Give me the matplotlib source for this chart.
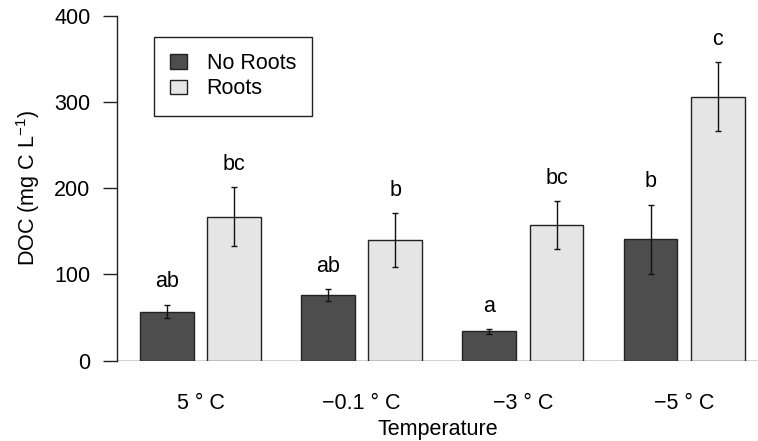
import numpy as np
import matplotlib
matplotlib.use("Agg")
import matplotlib.pyplot as plt

plt.rcParams['font.family'] = ['Liberation Sans', 'DejaVu Sans']
plt.rcParams['mathtext.fontset'] = 'custom'
plt.rcParams['mathtext.rm'] = 'Liberation Sans'
plt.rcParams['font.size'] = 15.5

# DOC by temperature, mean and standard error
temps = ["5 \u00b0 C", "\u22120.1 \u00b0 C", "\u22123 \u00b0 C", "\u22125 \u00b0 C"]
no_roots = [57, 76, 34, 141]
no_roots_se = [8, 7, 3, 40]
roots = [167, 140, 157, 306]
roots_se = [34, 31, 28, 40]
letters_no_roots = ["ab", "ab", "a", "b"]
letters_roots = ["bc", "b", "bc", "c"]

dark = "#4d4d4d"
light = "#e5e5e5"
edge = "#222222"

fig = plt.figure(figsize=(7.58, 4.41), dpi=100)
W, H = 758, 441
ax = fig.add_axes([117 / W, 1 - 360.7 / H, (758 - 117) / W, (360.7 - 15.7) / H])

x = np.arange(len(temps)) * 3.0
xd = x
xl = x + 1.25

ax.bar(xd, no_roots, width=1, color=dark, edgecolor=edge, linewidth=1.0,
       label="No Roots", zorder=2)
ax.bar(xl, roots, width=1, color=light, edgecolor=edge, linewidth=1.0,
       label="Roots", zorder=2)
ax.errorbar(xd, no_roots, yerr=no_roots_se, fmt="none", ecolor="#111111",
            elinewidth=1.0, capsize=2.2, capthick=1.0, zorder=3)
ax.errorbar(xl, roots, yerr=roots_se, fmt="none", ecolor="#111111",
            elinewidth=1.0, capsize=2.2, capthick=1.0, zorder=3)

# significance letters above the error bars
for xi, m, s, t in zip(xd, no_roots, no_roots_se, letters_no_roots):
    ax.text(xi, m + s + 20, t, ha="center", va="baseline")
for xi, m, s, t in zip(xl, roots, roots_se, letters_roots):
    ax.text(xi, m + s + 20, t, ha="center", va="baseline")

ax.axhline(0, color="#222222", linewidth=1.0, zorder=1)

ax.set_xlim(-0.93, 11.0)
ax.set_ylim(0, 400)
ax.set_yticks([0, 100, 200, 300, 400])
ax.set_xticks(x + 0.625)
ax.set_xticklabels(temps)
ax.tick_params(axis="x", length=0, pad=23)
ax.tick_params(axis="y", length=10, width=1.0, color="#222222", pad=9)

for side in ["top", "right", "bottom"]:
    ax.spines[side].set_visible(False)
ax.spines["left"].set_color("#222222")
ax.spines["left"].set_linewidth(1.0)

ax.set_xlabel("Temperature", labelpad=4)
fig.text(28 / W, 1 - 188 / H, "DOC (mg C L$^{\\mathregular{-1}}$)",
         rotation=90, ha="center", va="center")

leg = ax.legend(loc="upper left", bbox_to_anchor=(154 / W, 1 - 37 / H),
                bbox_transform=fig.transFigure, fancybox=False,
                edgecolor="#222222", framealpha=1, borderpad=0.75,
                handlelength=0.8, handleheight=0.65, handletextpad=0.9,
                labelspacing=0.2, borderaxespad=0)
leg.get_frame().set_linewidth(1.0)

fig.savefig("out.png", dpi=100)
